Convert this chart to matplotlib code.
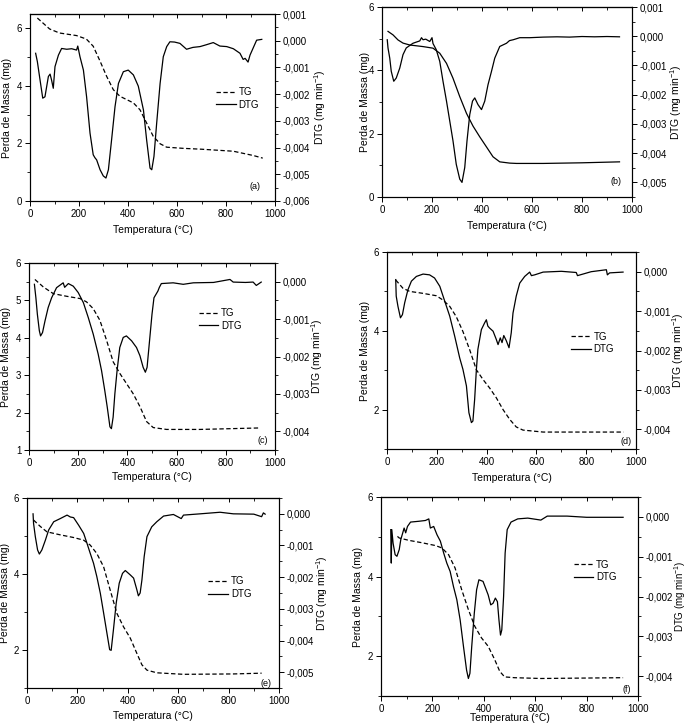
import numpy as np
import matplotlib
matplotlib.use('Agg')
import matplotlib.pyplot as plt
from matplotlib.ticker import MultipleLocator, FuncFormatter

plt.rcParams['font.family'] = ['Liberation Sans', 'DejaVu Sans']
plt.rcParams['mathtext.default'] = 'regular'

# ---- (a) ----
t_a_tg = [30, 80, 120, 190, 230, 258, 286, 313, 340, 367, 422, 449, 476, 503, 531, 558, 626, 700, 830, 912, 950]
tg_a = [6.36, 5.98, 5.84, 5.75, 5.63, 5.38, 4.86, 4.33, 3.87, 3.64, 3.41, 3.17, 2.71, 2.25, 1.99, 1.87, 1.83, 1.80, 1.73, 1.58, 1.49]
t_a_dtg = [23, 30, 41, 52, 61, 75, 82, 88, 95, 102, 116, 129, 150, 170, 190, 195, 204, 218, 231, 245,
           258, 265, 272, 286, 299, 310, 320, 333, 347, 361, 381, 401, 422, 442, 463, 476, 490, 497, 506, 517,
           531, 544, 558, 571, 590, 612, 639, 665, 694, 720, 748, 775, 803, 830, 857, 870, 878, 890, 898, 925, 946]
dtg_a = [-0.47, -0.78, -1.47, -2.15, -2.10, -1.34, -1.25, -1.47, -1.78, -0.97, -0.54, -0.29, -0.32, -0.30, -0.35, -0.20, -0.60, -1.10, -2.10, -3.46,
         -4.27, -4.38, -4.46, -4.83, -5.06, -5.14, -4.83, -3.71, -2.47, -1.60, -1.16, -1.10, -1.28, -1.70, -2.59, -3.71, -4.77, -4.83, -4.33, -3.09,
         -1.60, -0.60, -0.22, -0.04, -0.05, -0.10, -0.32, -0.25, -0.22, -0.15, -0.07, -0.20, -0.22, -0.30, -0.47, -0.70, -0.66, -0.80, -0.54, 0.02, 0.05]

# ---- (b) ----
t_b_tg = [24, 44, 64, 84, 111, 164, 204, 231, 258, 284, 311, 338, 364, 391, 418, 444, 471, 511, 538, 645, 800, 950]
tg_b = [5.23, 5.12, 4.96, 4.86, 4.80, 4.75, 4.70, 4.54, 4.22, 3.75, 3.17, 2.64, 2.24, 1.90, 1.58, 1.27, 1.11, 1.07, 1.06, 1.06, 1.08, 1.11]
t_b_dtg = [21, 24, 31, 37, 47, 57, 71, 84, 97, 124, 151, 158, 164, 175, 191, 200, 204, 217, 231, 244,
           258, 271, 284, 297, 311, 320, 331, 340, 351, 362, 371, 384, 398, 411, 424, 438, 451, 471, 498, 510,
           525, 551, 591, 645, 700, 750, 800, 850, 900, 950]
dtg_b = [-0.12, -0.40, -0.75, -1.20, -1.54, -1.43, -1.09, -0.63, -0.40, -0.24, -0.16, -0.05, -0.12, -0.10, -0.18, -0.05, -0.25, -0.46, -0.86, -1.54,
         -2.22, -2.90, -3.58, -4.38, -4.89, -5.00, -4.49, -3.58, -2.68, -2.22, -2.11, -2.34, -2.51, -2.22, -1.66, -1.20, -0.75, -0.35, -0.24, -0.15,
         -0.12, -0.05, -0.05, -0.03, -0.02, -0.03, -0.01, -0.02, -0.01, -0.02]

# ---- (c) ----
t_c_tg = [24, 58, 99, 153, 207, 234, 261, 288, 315, 342, 369, 396, 423, 451, 478, 505, 559, 694, 940]
tg_c = [5.56, 5.36, 5.18, 5.11, 5.05, 4.96, 4.78, 4.47, 3.94, 3.36, 3.05, 2.78, 2.51, 2.16, 1.76, 1.60, 1.55, 1.55, 1.59]
t_c_dtg = [22, 28, 34, 42, 47, 55, 65, 78, 92, 112, 139, 145, 160, 180, 200, 221, 241, 261, 281, 295,
           308, 318, 329, 335, 342, 349, 358, 369, 383, 396, 417, 437, 451, 464, 473, 480, 490, 500, 508, 524,
           530, 538, 586, 627, 668, 750, 817, 830, 880, 911, 924, 944]
dtg_c = [-0.07, -0.43, -0.87, -1.31, -1.45, -1.36, -1.05, -0.69, -0.43, -0.16, -0.03, -0.15, -0.05, -0.12, -0.29, -0.56, -0.96, -1.40, -1.93, -2.38,
         -2.91, -3.35, -3.88, -3.93, -3.62, -3.00, -2.38, -1.76, -1.49, -1.45, -1.58, -1.76, -1.98, -2.29, -2.42, -2.29, -1.58, -0.87, -0.43, -0.25,
         -0.15, -0.05, -0.03, -0.07, -0.03, -0.02, 0.06, -0.01, -0.02, -0.01, -0.10, -0.01]

# ---- (d) ----
t_d_tg = [35, 64, 91, 145, 198, 225, 252, 278, 305, 332, 359, 386, 412, 439, 466, 493, 519, 546, 627, 950]
tg_d = [5.29, 5.08, 5.00, 4.95, 4.89, 4.78, 4.62, 4.36, 3.98, 3.52, 3.01, 2.76, 2.55, 2.30, 2.00, 1.75, 1.56, 1.48, 1.43, 1.43]
t_d_dtg = [35, 37, 44, 54, 62, 71, 84, 98, 118, 145, 171, 191, 212, 232, 252, 272, 292, 305, 319, 329,
           339, 345, 352, 359, 365, 379, 392, 399, 405, 412, 426, 439, 446, 455, 462, 469, 479, 490, 499, 506,
           519, 533, 553, 573, 580, 593, 627, 700, 760, 765, 820, 881, 885, 894, 948]
dtg_d = [-0.20, -0.62, -0.88, -1.17, -1.09, -0.79, -0.46, -0.24, -0.12, -0.06, -0.08, -0.16, -0.37, -0.75, -1.13, -1.64, -2.19, -2.48, -2.90, -3.58,
         -3.83, -3.79, -3.24, -2.48, -1.97, -1.47, -1.30, -1.22, -1.38, -1.43, -1.51, -1.72, -1.85, -1.68, -1.80, -1.62, -1.75, -1.93, -1.55, -1.05,
         -0.62, -0.29, -0.12, -0.01, -0.10, -0.08, -0.01, 0.01, -0.02, -0.10, 0.00, 0.05, -0.08, -0.03, -0.01]

# ---- (e) ----
t_e_tg = [26, 53, 79, 132, 185, 225, 251, 277, 304, 330, 357, 383, 410, 436, 456, 476, 515, 621, 819, 931]
tg_e = [5.42, 5.25, 5.11, 5.03, 4.96, 4.89, 4.76, 4.54, 4.19, 3.58, 2.96, 2.61, 2.31, 1.91, 1.61, 1.47, 1.40, 1.36, 1.37, 1.39]
t_e_dtg = [24, 26, 33, 42, 49, 59, 73, 86, 106, 132, 159, 172, 185, 205, 225, 238, 251, 264, 277, 291,
           304, 317, 328, 334, 343, 354, 366, 379, 390, 410, 423, 436, 442, 449, 456, 465, 476, 495, 515, 542,
           581, 612, 621, 687, 766, 819, 900, 931, 938, 945]
dtg_e = [0.00, -0.30, -0.72, -1.14, -1.27, -1.14, -0.83, -0.51, -0.25, -0.15, -0.04, -0.10, -0.12, -0.36, -0.62, -0.93, -1.25, -1.56, -1.98, -2.51,
         -3.13, -3.76, -4.29, -4.31, -3.66, -2.82, -2.19, -1.88, -1.79, -1.93, -2.03, -2.40, -2.59, -2.50, -2.09, -1.35, -0.72, -0.41, -0.25, -0.07,
         -0.02, -0.15, -0.04, 0.00, 0.05, 0.00, -0.01, -0.09, 0.03, -0.01]

# ---- (f) ----
t_f_tg = [64, 71, 109, 160, 212, 237, 263, 288, 314, 340, 365, 391, 417, 442, 462, 481, 519, 622, 942]
tg_f = [5.01, 4.97, 4.91, 4.85, 4.78, 4.72, 4.55, 4.22, 3.67, 3.17, 2.75, 2.46, 2.25, 1.92, 1.62, 1.48, 1.46, 1.44, 1.46]
t_f_dtg = [38, 40, 42, 47, 55, 62, 71, 77, 90, 96, 103, 115, 147, 173, 186, 192, 205, 218, 231, 244,
           256, 269, 282, 295, 308, 321, 333, 340, 346, 353, 363, 372, 381, 397, 417, 427, 436, 445, 453, 459,
           465, 470, 477, 483, 491, 506, 532, 571, 622, 647, 724, 800, 942]
dtg_f = [-0.32, -1.16, -0.32, -0.66, -0.95, -0.99, -0.82, -0.57, -0.28, -0.40, -0.24, -0.13, -0.11, -0.09, -0.05, -0.28, -0.24, -0.45, -0.61, -0.91,
         -1.16, -1.37, -1.75, -2.08, -2.59, -3.26, -3.85, -4.06, -3.93, -3.26, -2.42, -1.83, -1.58, -1.62, -1.96, -2.21, -2.17, -2.04, -2.13, -2.59,
         -2.97, -2.84, -2.00, -0.91, -0.32, -0.13, -0.05, -0.03, -0.08, 0.02, 0.02, -0.01, -0.01]

W, H = 687, 723
fig = plt.figure(figsize=(W / 100, H / 100), dpi=100)


def comma(v, pos):
    s = '%.3f' % v
    if s == '-0.000':
        s = '0.000'
    return s.replace('.', ',')


def panel(box, t_tg, tg, t_dtg, dtg, ylim, ymaj, ymin, ylim2, tag, tagpos,
          leg=None, tg_dashed=True, ylab_px=7, ylab2_px=320, xlab_px=230,
          lab2_size=7.5):
    # box = left, right, top, bottom in pixels; label positions in pixels too
    l, r, t, b = box
    ax = fig.add_axes([l / W, 1 - b / H, (r - l) / W, (b - t) / H])
    ax2 = ax.twinx()
    ls = (0, (3.5, 2)) if tg_dashed else '-'
    l1, = ax.plot(t_tg, tg, color='black', lw=0.9, ls=ls, label='TG')
    l2, = ax2.plot(t_dtg, np.array(dtg) * 1e-3, color='black', lw=0.9, label='DTG')
    ax.set_xlim(0, 1000)
    ax.set_ylim(*ylim)
    ax2.set_ylim(*ylim2)
    ax.xaxis.set_major_locator(MultipleLocator(200))
    ax.xaxis.set_minor_locator(MultipleLocator(100))
    ax.yaxis.set_major_locator(MultipleLocator(ymaj))
    ax.yaxis.set_minor_locator(MultipleLocator(ymin))
    ax2.yaxis.set_major_locator(MultipleLocator(0.001))
    ax2.yaxis.set_minor_locator(MultipleLocator(0.0005))
    ax2.yaxis.set_major_formatter(FuncFormatter(comma))
    for a in (ax, ax2):
        a.tick_params(which='major', length=3.5, width=0.7, labelsize=7, pad=2)
        a.tick_params(which='minor', length=2, width=0.6)
        for sp in a.spines.values():
            sp.set_linewidth(0.8)
    top = ax.secondary_xaxis('top')
    top.xaxis.set_major_locator(MultipleLocator(200))
    top.xaxis.set_minor_locator(MultipleLocator(100))
    top.tick_params(which='both', direction='in', labeltop=False)
    top.tick_params(which='major', length=3, width=0.7)
    top.tick_params(which='minor', length=2, width=0.6)
    ax.set_xlabel('Temperatura (°C)', fontsize=7.5, va='center')
    ax.set_ylabel('Perda de Massa (mg)', fontsize=7.5, va='center')
    ax2.set_ylabel('DTG (mg min$^{-1}$)', fontsize=lab2_size, va='center')
    ax.xaxis.set_label_coords(0.5, (b - xlab_px) / (b - t))
    ax.yaxis.set_label_coords((ylab_px - l) / (r - l), 0.5)
    ax2.yaxis.set_label_coords((ylab2_px - l) / (r - l), 0.5)
    ax.text(tagpos[0], tagpos[1], tag, transform=ax.transAxes, fontsize=6.5,
            ha='center', va='center')
    if leg is not None:
        ax.legend([l1, l2], ['TG', 'DTG'], loc='upper left',
                  bbox_to_anchor=(leg[0], leg[1] + 7 / (b - t)), frameon=False,
                  fontsize=7, handlelength=2.0, handletextpad=0.3,
                  labelspacing=0.25, borderpad=0, borderaxespad=0)
    return ax, ax2


panel((30, 275, 14, 201), t_a_tg, tg_a, t_a_dtg, dtg_a, (0, 6.5), 2, 1,
      (-0.006, 0.001), '(a)', (0.92, 0.08), leg=(0.76, 0.57),
      ylab_px=7, ylab2_px=320, xlab_px=230)
panel((382, 632, 7, 197), t_b_tg, tg_b, t_b_dtg, dtg_b, (0, 6), 2, 1,
      (-0.0055, 0.001), '(b)', (0.936, 0.084), leg=None, tg_dashed=False,
      ylab_px=365, ylab2_px=676, xlab_px=226)
panel((29, 275, 263, 450), t_c_tg, tg_c, t_c_dtg, dtg_c, (1, 6), 1, 0.5,
      (-0.0045, 0.0005), '(c)', (0.95, 0.05), leg=(0.69, 0.72),
      ylab_px=6, ylab2_px=317, xlab_px=477)
panel((387, 636, 252, 449), t_d_tg, tg_d, t_d_dtg, dtg_d, (1, 6), 2, 1,
      (-0.0045, 0.0005), '(d)', (0.96, 0.04), leg=(0.74, 0.56),
      ylab_px=365, ylab2_px=678, xlab_px=478)
panel((27, 279, 498, 688), t_e_tg, tg_e, t_e_dtg, dtg_e, (1, 6), 2, 1,
      (-0.0055, 0.0005), '(e)', (0.948, 0.026), leg=(0.72, 0.55),
      ylab_px=5, ylab2_px=322, xlab_px=716)
panel((381, 638, 497, 696), t_f_tg, tg_f, t_f_dtg, dtg_f, (1, 6), 2, 1,
      (-0.0045, 0.0005), '(f)', (0.958, 0.035), leg=(0.75, 0.65),
      ylab_px=358, ylab2_px=680, xlab_px=718, lab2_size=7)

fig.savefig('out.png', dpi=100)
